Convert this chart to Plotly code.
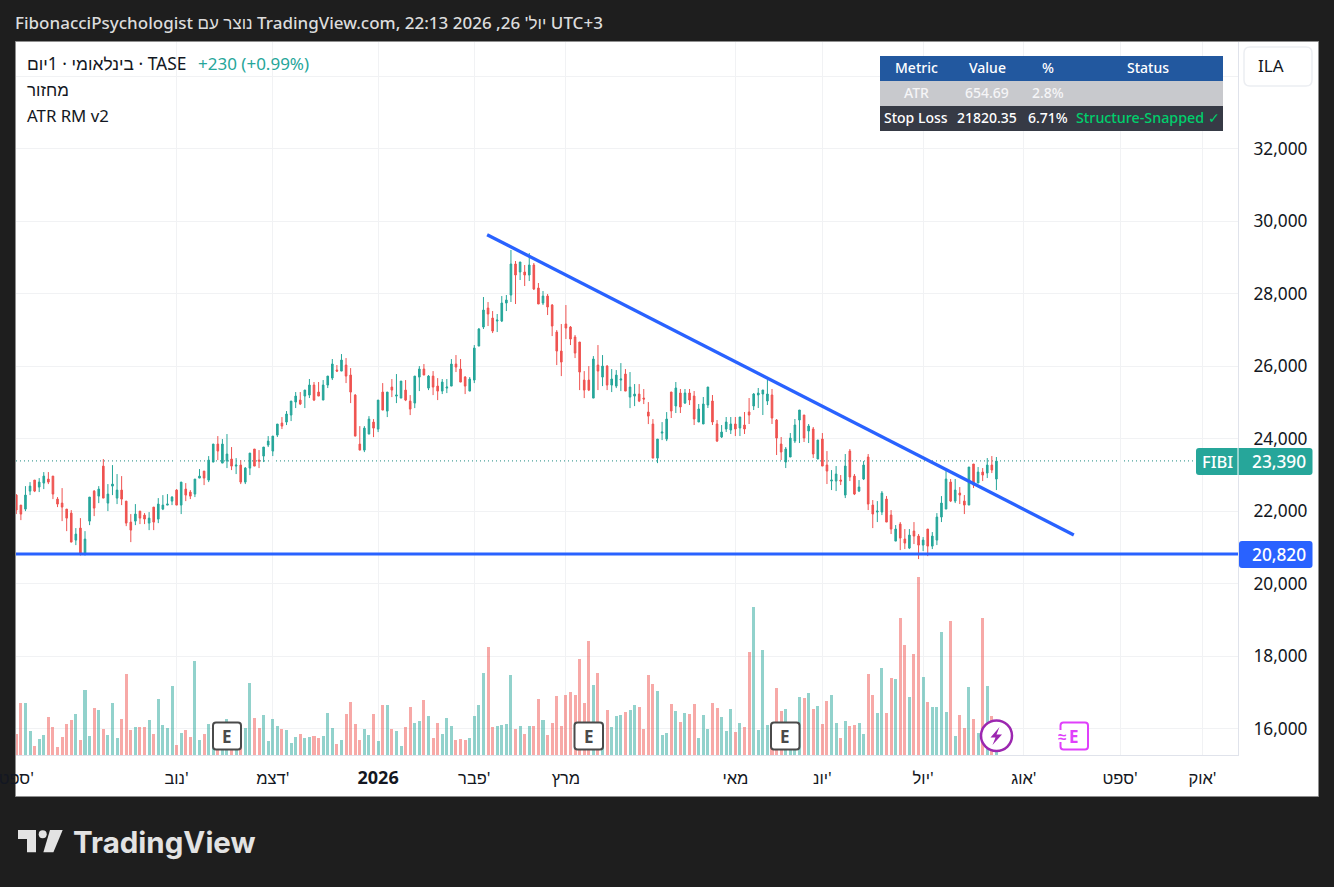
import plotly.graph_objects as go

W, H = 1334, 887

# ------------------------------- data -------------------------------
directions = ("RRGGRGGRRR" "RRRGRGGRGR" "GGGRRRGRRG" "RGGGGRGRRG" "GRGGRGGRGR"
              "GGRRGGGGRG" "GGRGGRRGGG" "RGRRRRGGRG" "RGRGGRRGGR" "GRRGGGRRRG"
              "GGGRRGGGGR" "GRGRRGRRRR" "RRRRRRGRGR" "GGGRGGRRRR" "GGGRGRGRRG"
              "GGRRGGGRGR" "RGGGGRRRGG" "GGRGRGRRGG" "RGRRGGRRGG" "RRGRRGRRGR"
              "GGGGRGRRGR" "GRGRG")

highs = [
22475,22171,22695,22806,22861,22916,23082,23082,22971,22392,
22640,22061,22033,21537,21812,21453,22392,22585,22695,23441,
22751,23275,23027,22971,22281,21923,22199,22005,21950,21978,
22116,22364,22447,22475,22419,22613,22806,22778,22585,22889,
23165,23109,23523,23855,24075,23993,24131,23772,23468,23413,
23220,23606,23717,23689,23772,24075,24075,24407,24600,24765,
25041,25290,25290,25345,25649,25566,25566,25621,25731,26201,
26035,26338,26227,25951,25234,24350,24350,24626,24544,25068,
25537,25289,25648,25786,25592,25620,25206,25730,26006,26062,
25758,25868,25675,25648,25648,26200,26310,26200,25730,25703,
26586,27055,27911,27773,27524,27442,27938,27966,29208,28904,
28877,28794,29125,28849,28297,28076,27994,27718,27000,27166,
27690,27110,26862,26669,25868,26006,26282,26586,26310,26034,
25924,25896,26089,25924,25841,25510,25510,25372,25013,24544,
23992,24461,24737,25291,25567,25374,25374,25374,25318,24960,
25153,25429,25208,24518,24380,24601,24601,24601,24601,24739,
25125,25263,25401,25346,25622,25374,24546,24049,23773,24159,
24546,24794,24656,24408,24325,23966,24159,23662,23138,23248,
23000,23580,23718,23028,22862,23386,23580,22310,22282,22558,
22420,22034,21620,21703,21510,21510,21703,21372,21289,21510,
21427,21951,22420,23110,22890,22890,22669,22448,23221,23304,
23221,23193,23469,23524,23497]

body_tops = [
22447,22171,22447,22695,22861,22806,22971,22889,22971,22337,
22226,22061,21950,21371,21537,21233,22392,22557,22613,23247,
22475,22751,22585,22585,22281,21702,21923,22005,21895,21812,
22116,22199,22171,22199,22392,22585,22806,22613,22530,22889,
22971,23109,23413,23855,23855,23855,23579,23441,23275,23275,
23192,23606,23717,23413,23772,23937,24075,24407,24434,24683,
25041,25179,25069,25345,25483,25483,25290,25483,25731,26063,
25897,26172,26034,25758,25206,23854,24295,24544,24461,25068,
25289,25289,25427,25206,25592,25344,25040,25730,25924,25924,
25730,25730,25454,25565,25427,26062,26062,25924,25703,25648,
26503,27028,27552,27607,27331,27276,27745,27828,28822,28822,
28877,28601,28794,28794,28159,27938,27938,27690,26945,26420,
27166,27083,26807,26669,25620,25620,26200,26034,26006,26006,
25648,25758,25648,25786,25427,25234,25234,25123,24737,24406,
23992,24185,24544,25291,25401,25263,25263,25263,25180,24822,
24960,25429,25042,24408,24187,24463,24408,24408,24601,24380,
24739,25236,25263,25346,25236,25208,24518,23856,23718,24021,
24380,24794,24656,24352,24270,23966,23994,23276,22862,23028,
22862,23248,23662,22972,22669,23276,23497,22172,22006,22503,
22338,21896,21510,21648,21234,21344,21454,21316,21206,21510,
21316,21841,22227,22890,22807,22586,22503,22282,23221,23304,
23083,23083,23276,23276,23386]

body_bottoms = [
22033,21923,22061,22557,22557,22668,22778,22806,22475,22199,
22116,21812,21150,21205,20830,20830,21729,22088,22419,22364,
22226,22695,22364,22337,21674,21481,21729,21812,21785,21674,
21702,21785,22061,22171,22281,22171,22171,22447,22419,22475,
22916,22916,22861,23358,23661,23330,23385,23247,23247,22806,
22806,23192,23247,23385,23523,23827,23661,24103,24351,24462,
24655,25014,24959,25179,25207,25069,25179,25069,25483,25676,
25869,25868,25730,25289,24074,23688,23688,24130,24295,24268,
24792,24764,25344,25178,25123,25068,24820,24985,25703,25758,
25399,25427,25316,25316,25399,25454,25979,25565,25454,25316,
25620,26558,27083,27442,26972,27248,27248,27745,27966,28518,
28601,28518,28518,28132,27718,27745,27635,27110,26420,26117,
27055,26752,26365,25841,25344,25344,25123,25868,25703,25482,
25482,25454,25620,25316,25151,25178,25040,25096,24626,23467,
23467,24157,23992,24766,24904,24877,24987,25070,24546,24463,
24408,24932,24463,23938,24049,24270,24242,24270,24297,24270,
24656,24904,25208,25236,25042,24573,24021,23635,23359,23497,
23938,24518,24021,24214,23580,23442,23248,23110,22834,22834,
22834,22448,22945,22476,22558,22890,22200,21924,21979,21979,
21703,21510,21178,21261,21123,20985,21316,21068,21068,21040,
21040,21206,21841,22062,22282,22282,22448,22172,22172,22724,
22779,23000,23055,23138,22890]

lows = [
21923,21757,22005,22447,22530,22530,22613,22751,22337,22116,
21729,21453,21150,21067,20780,20780,21619,21867,22226,22364,
22005,22447,22199,22171,21591,21150,21619,21647,21647,21481,
21481,21674,22033,22171,22171,22171,21923,22281,22337,22392,
22916,22723,22806,23358,23413,23330,23192,23137,23027,22751,
22751,22999,23247,23192,23358,23772,23523,24048,24269,24379,
24489,24848,24931,24848,25124,25041,25179,25069,25400,25621,
25842,25868,25537,24985,24074,23688,23633,24130,24047,24185,
24792,24599,25151,24985,25123,25040,24654,24847,25316,25758,
25344,25206,25068,25234,25261,25454,25841,25565,25234,25316,
25537,26558,27028,27110,26917,26945,27221,27524,27773,27718,
28380,28214,28352,28104,27718,27690,27414,26834,26034,25730,
26752,26586,26227,25344,25123,25316,25123,25344,25454,25344,
25289,25399,25316,25316,24847,24902,25013,24958,24406,23467,
23329,23964,23936,24573,24711,24711,24960,24932,24380,24463,
24408,24849,24380,23911,24021,24187,24132,24076,24076,24132,
24408,24794,24849,24656,24932,24408,23552,23414,23193,23497,
23883,23883,23911,23883,23469,23442,23248,22752,22586,22558,
22724,22365,22834,22448,22531,22862,22034,21537,21703,21896,
21703,21372,21178,20930,20958,20958,21096,20682,20902,20764,
20958,21068,21703,22062,22255,22227,22200,21924,22172,22641,
22779,22834,22917,23055,22586]

volumes = [
21,52,52,24,9,16,20,38,28,8,
18,31,35,41,15,65,19,47,45,26,
20,52,17,36,81,25,28,28,28,35,
21,56,30,27,69,10,22,25,18,94,
15,21,31,20,25,25,36,25,25,22,
27,72,37,27,40,14,36,29,26,25,
12,18,21,17,18,19,17,19,42,27,
11,15,41,53,31,15,26,20,41,14,
50,50,26,24,9,28,48,32,34,55,
39,17,32,21,37,29,15,16,15,17,
39,50,82,108,28,29,30,31,80,26,
29,21,29,29,56,35,20,32,59,29,
60,63,60,96,52,114,70,82,30,45,
28,39,40,43,45,50,48,26,80,71,
64,20,22,51,44,33,42,41,51,17,
40,26,52,47,38,24,46,23,32,28,
103,148,25,105,30,25,67,44,46,20,
15,58,57,62,46,49,31,54,60,32,
17,34,29,30,32,21,81,60,42,87,
42,77,76,137,110,58,101,178,78,53,
48,48,123,43,134,19,40,27,68,36,
22,137,69,39,5]

month_positions = [0, 35, 56, 79, 100, 120, 157, 176, 198, 220, 241, 259]
month_labels = ["ספט'", "נוב'", "דצמ'", "<span style='font-size:18px'><b>2026</b></span>", "פבר'", "מרץ", "מאי", "יונ'", "יול'", "אוג'", "ספט'", "אוק'"]
price_ticks = [16000, 18000, 20000, 22000, 24000, 26000, 28000, 30000, 32000, 34000]
price_labels = ["16,000", "18,000", "20,000", "22,000", "24,000", "26,000", "28,000", "30,000", "32,000", ""]

trend_x = [102.8, 230.9]
trend_y = [29630, 21346]
support_level = 20820
last_close = 23390

table_head = ["Metric", "Value", "%", "Status"]
table_atr = ["ATR", "654.69", "2.8%", ""]
table_stop = ["Stop Loss", "21820.35", "6.71%", "Structure-Snapped ✓"]
# -------------------------------------------------------------------------------------------

UP, DOWN = "#26a69a", "#ef5350"
UP_V, DOWN_V = "rgba(38,166,154,0.5)", "rgba(239,83,80,0.5)"
BLUE = "#2962ff"
INK = "#131722"
FONT = "Noto Sans, Liberation Sans, DejaVu Sans, sans-serif"

opens = [b if d == "G" else t for d, t, b in zip(directions, body_tops, body_bottoms)]
closes = [t if d == "G" else b for d, t, b in zip(directions, body_tops, body_bottoms)]
idx = list(range(len(highs)))

X0, X1, Y0, Y1 = 16, 1238, 42, 755
BAR_STEP, BAR_ORIGIN = 4.58, 16.3
xrange_ = [(X0 - BAR_ORIGIN) / BAR_STEP, (X1 - BAR_ORIGIN) / BAR_STEP]
PX_PER_UNIT = 72.5 / 2000
yrange_ = [26000 - (Y1 - 366.3) / PX_PER_UNIT, 26000 + (366.3 - Y0) / PX_PER_UNIT]


def px(x):
    return x / W


def py(y):
    return 1 - y / H


def rect(x0, y0, x1, y1, fill=None, line=None, lw=1, r=0, layer="above"):
    if r:
        rx, ry = r / W, r / H
        a, b, c, d = px(x0), px(x1), py(y0), py(y1)
        path = (f"M {a+rx} {c} L {b-rx} {c} Q {b} {c} {b} {c-ry} L {b} {d+ry} Q {b} {d} {b-rx} {d} "
                f"L {a+rx} {d} Q {a} {d} {a} {d+ry} L {a} {c-ry} Q {a} {c} {a+rx} {c} Z")
        s = dict(type="path", path=path, xref="paper", yref="paper")
    else:
        s = dict(type="rect", x0=px(x0), x1=px(x1), y0=py(y0), y1=py(y1), xref="paper", yref="paper")
    s.update(fillcolor=fill or "rgba(0,0,0,0)", layer=layer,
             line=dict(color=line or "rgba(0,0,0,0)", width=lw if line else 0))
    return s


def poly(points, fill, layer="above"):
    p = " L ".join(f"{px(x)} {py(y)}" for x, y in points)
    return dict(type="path", path=f"M {p} Z", xref="paper", yref="paper", fillcolor=fill,
                line=dict(width=0), layer=layer)


def txt(x, y, text, size=17, color=INK, anchor="left", family=FONT, weight=400):
    return dict(x=px(x), y=py(y), xref="paper", yref="paper", text=text, showarrow=False,
                xanchor=anchor, yanchor="middle", align=anchor, xshift=0, yshift=0,
                font=dict(size=size, color=color, family=family, weight=weight), borderpad=0, borderwidth=0)


shapes = [
    rect(15.5, 41.5, 1318.5, 796.5, fill="#ffffff", line="#8f8f8f", lw=1, layer="below"),
    # last-price dotted line
    dict(type="line", xref="paper", yref="y2", x0=px(16), x1=px(1196), y0=last_close, y1=last_close,
         line=dict(color="#1c8a80", width=1, dash="1px,3px"), layer="below"),
    # table
    rect(880, 56, 1223, 81, fill="#22589f"),
    rect(880, 81, 1223, 106, fill="#c8c9cd"),
    rect(880, 106, 1223, 131, fill="#363a45"),
    # currency button
    rect(1244, 47, 1312, 86, fill="#ffffff", line="#eceef2", lw=1.5, r=6),
    # price labels
    rect(1196, 448, 1246, 475, fill=UP, r=3),
    rect(1238.5, 448, 1312.5, 475, fill=UP, r=3),
    dict(type="line", xref="paper", yref="paper", x0=px(1238), x1=px(1238), y0=py(448), y1=py(475),
         line=dict(color="#ffffff", width=1), layer="above"),
    rect(1239, 541, 1312.5, 568, fill=BLUE, r=3),
]
for a, b in ((213, 241), (574.5, 603), (771, 799.5)):
    shapes.append(rect(a, 722.5, b, 749.5, fill="#ffffff", line="#4a4a4a", lw=2, r=3))
# earnings-soon and dividend markers
shapes.append(dict(type="circle", xref="paper", yref="paper", x0=px(981), x1=px(1012), y0=py(720.5), y1=py(751),
                   fillcolor="#ffffff", line=dict(color="#9c27b0", width=2.5), layer="above"))
shapes.append(poly([(999.5, 727), (990.5, 737.5), (995.5, 737.5), (992.5, 745), (1002, 734.5), (996.5, 734.5)], "#9c27b0"))
shapes.append(rect(1060.5, 722.5, 1088, 749.5, fill="#ffffff", line="#e040fb", lw=2, r=3))
shapes.append(rect(1056, 730, 1066, 742, fill="#ffffff"))
# logo
shapes.append(poly([(18, 830), (36, 830), (36, 852.3), (27, 852.3), (27, 839), (18, 839)], "#e3e3e3"))
shapes.append(dict(type="circle", xref="paper", yref="paper", x0=px(38.7), x1=px(46.7), y0=py(830.3), y1=py(838.3),
                   fillcolor="#e3e3e3", line=dict(width=0), layer="above"))
shapes.append(poly([(50, 830), (62.7, 830), (53.4, 852.3), (43.4, 852.3)], "#e3e3e3"))

annotations = [
    txt(15, 22.5, "FibonacciPsychologist נוצר עם TradingView.com, יול' 26, 2026 22:13 UTC+3", 17, "#dcdcdc", weight=500),
    txt(27, 63.5, "\u202bTASE · בינלאומי · 1יום\u202c", 17.4),
    txt(198, 63.5, "+230 (+0.99%)", 17, UP),
    txt(27, 90, "מחזור", 17),
    txt(27, 115, "ATR RM v2", 16.8),
    txt(1258, 66, "ILA", 17),
    txt(1217, 461.5, "FIBI", 16.5, "#ffffff", "center", weight=500),
    txt(1252, 461, f"{last_close:,}", 17.3, "#ffffff", weight=500),
    txt(1252, 554, f"{support_level:,}", 17.3, "#ffffff", weight=500),
    txt(73, 842, "<b>TradingView</b>", 29.5, "#e3e3e3", family="Inter, Noto Sans, sans-serif"),
]
cols = [916, 987, 1047.5, 1147.5]
for vals, yc, clr in ((table_head, 67.5, "#ffffff"), (table_atr, 92.5, "#f5f5f7"), (table_stop, 118, "#ffffff")):
    for i, (c, v) in enumerate(zip(cols, vals)):
        if v:
            col = "#00cf6c" if v.startswith("Structure") else clr
            annotations.append(txt(c, yc, v, 14.3 if col != clr else 14, col, "center", weight=500))
for xc in (227, 588.7, 785.2):
    annotations.append(txt(xc, 736, "<b>E</b>", 17, "#4a4a4a", "center"))
annotations.append(txt(1074, 736, "<b>E</b>", 17, "#e040fb", "center"))
annotations.append(txt(1061.5, 736, "<b>≈</b>", 15, "#e040fb", "center"))

fig = go.Figure()
fig.add_trace(go.Bar(x=idx, y=volumes, width=0.66, yaxis="y",
                     marker=dict(color=[UP_V if d == "G" else DOWN_V for d in directions], line=dict(width=0)),
                     hoverinfo="skip"))
fig.add_trace(go.Candlestick(x=idx, open=opens, high=highs, low=lows, close=closes, yaxis="y2",
                             whiskerwidth=0,
                             increasing=dict(line=dict(color=UP, width=1), fillcolor=UP),
                             decreasing=dict(line=dict(color=DOWN, width=1), fillcolor=DOWN),
                             hoverinfo="skip"))
fig.add_trace(go.Scatter(x=trend_x, y=trend_y, mode="lines", yaxis="y2",
                         line=dict(color=BLUE, width=3.3), hoverinfo="skip"))
fig.add_trace(go.Scatter(x=xrange_, y=[support_level, support_level], mode="lines", yaxis="y2",
                         line=dict(color=BLUE, width=3), hoverinfo="skip"))

fig.update_layout(
    width=W, height=H, autosize=False, showlegend=False,
    margin=dict(l=0, r=0, t=0, b=0, pad=0),
    paper_bgcolor="#1e1e1e", plot_bgcolor="rgba(0,0,0,0)",
    boxgap=0.5, bargap=0, font=dict(family=FONT, color=INK),
    shapes=shapes, annotations=annotations,
    xaxis=dict(domain=[X0 / W, X1 / W], range=xrange_, rangeslider=dict(visible=False), automargin=False,
               tickmode="array", tickvals=month_positions, ticktext=month_labels,
               tickfont=dict(size=16.5, color=INK, family=FONT), ticks="", ticklabelstandoff=8,
               showgrid=True, gridcolor="#f1f2f4", gridwidth=1, zeroline=False,
               showline=True, linecolor="#e0e3eb", linewidth=1, tickangle=0, ticklabeloverflow="allow"),
    yaxis=dict(domain=[1 - Y1 / H, 1 - Y0 / H], range=[0, Y1 - Y0], showgrid=False, showticklabels=False,
               zeroline=False, ticks="", showline=False, automargin=False),
    yaxis2=dict(overlaying="y", side="right", anchor="x", range=yrange_, automargin=False,
                tickmode="array", tickvals=price_ticks, ticktext=price_labels,
                tickfont=dict(size=17.3, color=INK, family=FONT), ticks="", ticklabelstandoff=11,
                showgrid=True, gridcolor="#f1f2f4", gridwidth=1, zeroline=False,
                showline=True, linecolor="#e0e3eb", linewidth=1),
)

fig.write_html("out.html", config=dict(displayModeBar=False, responsive=False),
               post_script="document.body.style.margin='0';document.body.style.background='#1e1e1e';")
